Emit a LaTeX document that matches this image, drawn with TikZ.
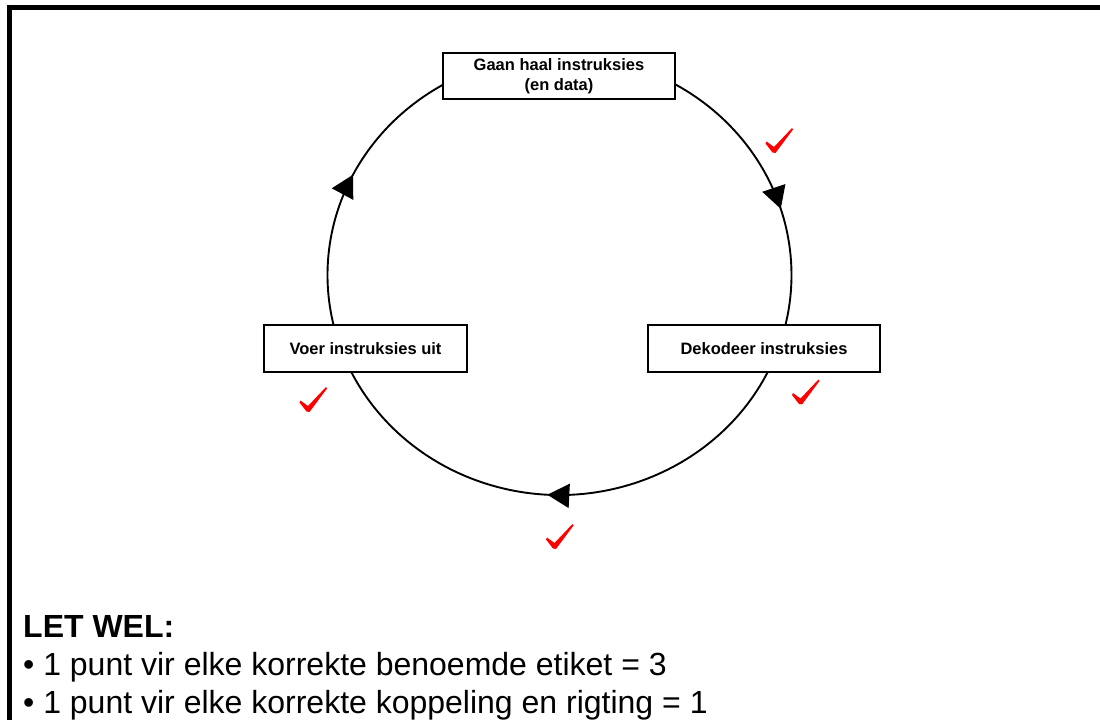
\documentclass[tikz,border=0pt]{standalone}
\usepackage{fontspec}
\setmainfont{Liberation Sans}
\usetikzlibrary{arrows.meta,decorations.markings}
\begin{document}
\begin{tikzpicture}[x=1pt,y=1pt,
  box/.style={draw=black, line width=1.8pt, fill=white, inner sep=0pt, align=center,
    font=\fontsize{16.5}{20}\selectfont\bfseries},
  cyc/.style={line width=1.9pt},
  midarrow/.style={postaction={decorate}, decoration={markings,
    mark=at position #1 with {\arrow{Triangle[length=22pt,width=24pt]}}}},
  redcheck/.pic={\fill[red] (-13,-1) -- (-5.5,-6.5) -- (12.5,12.5) -- (13.5,11) -- (-4,-12.5) -- (-7,-12) -- (-14,-3) -- cycle;},
  note/.style={anchor=base west, inner sep=0pt, font=\fontsize{32}{38}\selectfont}
]
\useasboundingbox (0,0) rectangle (1100,720);
% frame
\draw[line width=5pt] (7.3,712.5) -- (1100,712.5);
\draw[line width=4.5pt] (9.5,715) -- (9.5,0);
% cycle
\coordinate (c) at (559.5,445);
\draw[cyc, midarrow=0.666] (c) ++(90:232 and 220) arc[start angle=90, end angle=-20, x radius=232, y radius=220];
\draw[cyc, midarrow=0.522] (c) ++(-20:232 and 220) arc[start angle=-20, end angle=-160, x radius=232, y radius=220];
\draw[cyc, midarrow=0.42] (c) ++(200:232 and 220) arc[start angle=200, end angle=90, x radius=232, y radius=220];
% boxes
\node[box, minimum width=232pt, minimum height=46pt] (fetch) at (559,644) {Gaan haal instruksies\\(en data)};
\node[box, minimum width=232pt, minimum height=47pt] (decode) at (764,371.5) {Dekodeer instruksies};
\node[box, minimum width=203pt, minimum height=47pt] (exec) at (365.5,371.5) {Voer instruksies uit};
% checks
\pic at (779.5,579.5) {redcheck};
\pic at (806,328) {redcheck};
\pic at (313.5,320.5) {redcheck};
\pic at (560,183.5) {redcheck};
% notes
\node[note, font=\fontsize{32}{38}\selectfont\bfseries] (lw) at (23,82) {LET WEL:};
\node[note] (n1) at (23,44) {• 1 punt vir elke korrekte benoemde etiket = 3};
\node[note] (n2) at (23,6) {• 1 punt vir elke korrekte koppeling en rigting = 1};
\end{tikzpicture}
\end{document}
